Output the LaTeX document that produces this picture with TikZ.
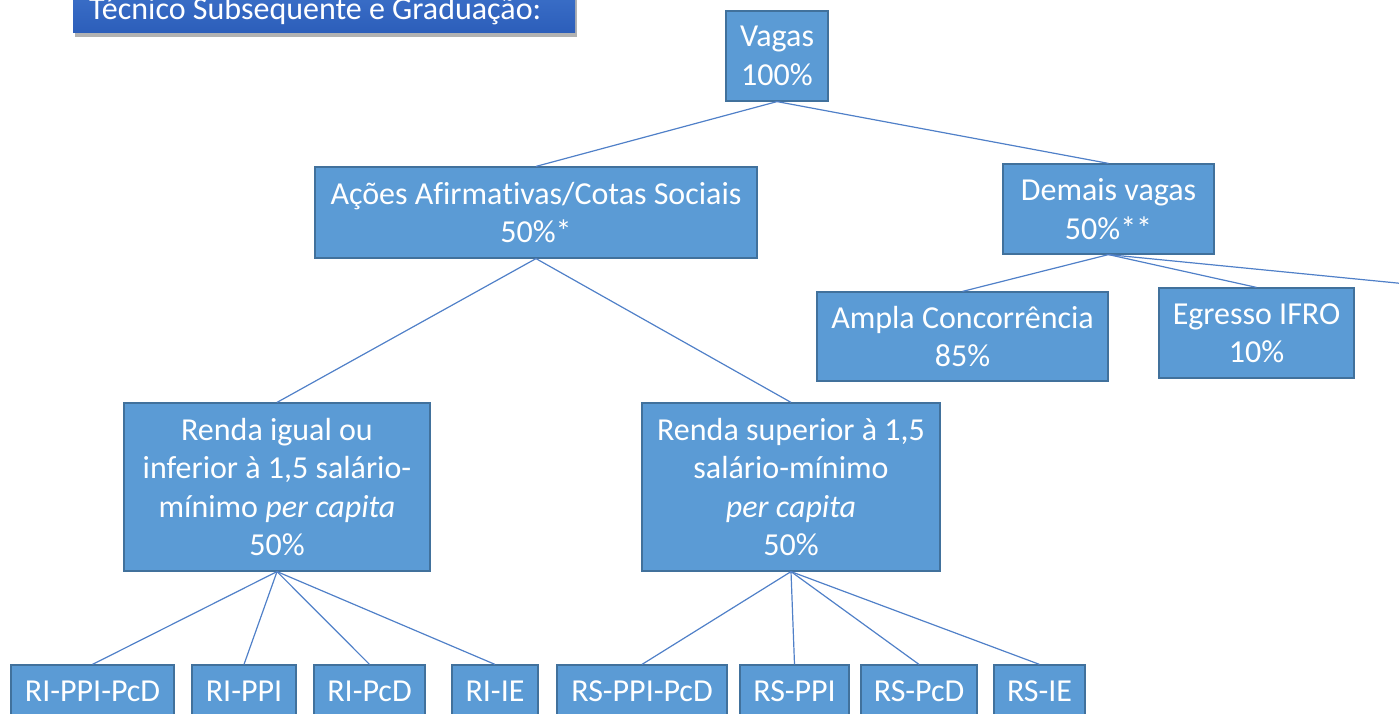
\documentclass[tikz,border=0pt]{standalone}
\usepackage{fontspec}
\setmainfont{Carlito}[Ligatures=NoCommon]
\usetikzlibrary{shadows}
\definecolor{boxfill}{RGB}{91,155,213}
\definecolor{boxline}{RGB}{65,113,156}
\definecolor{conn}{RGB}{80,128,200}
\definecolor{titletop}{RGB}{74,128,214}
\definecolor{titlebot}{RGB}{44,94,186}
\tikzset{
  box/.style={draw=boxline, fill=boxfill, line width=1.2pt, text=white, align=center,
    inner sep=0pt, font=\fontsize{32}{38.5}\selectfont},
  link/.style={draw=conn, line width=1.2pt},
  titlebox/.style={top color=titletop, bottom color=titlebot, draw=none,
    drop shadow={shadow xshift=2pt, shadow yshift=-4pt, opacity=0.3, fill=black}},
  titletxt/.style={text=white, inner sep=0pt, font=\fontsize{32}{38.5}\selectfont}
}
\begin{document}
\begin{tikzpicture}[x=1pt,y=-1pt]
\useasboundingbox (0,0) rectangle (1399,714);
\clip (0,0) rectangle (1399,714);
% title
\node[titlebox, minimum width=502pt, minimum height=80pt, anchor=south west] (title) at (73,33) {};
\node[titletxt, anchor=base west] (titletext) at (89,20) {Técnico Subsequente e Graduação:};
% nodes
\node[box, minimum width=102pt, minimum height=90pt] (vagas) at (777,56) {Vagas\\100\%};
\node[box, minimum width=442pt, minimum height=91pt] (acoes) at (536,212.5) {Ações Afirmativas/Cotas Sociais\\50\%*};
\node[box, minimum width=211pt, minimum height=90pt] (demais) at (1108.5,209) {Demais vagas\\50\%**};
\node[box, minimum width=291pt, minimum height=89pt] (ampla) at (962.5,336.5) {Ampla Concorrência\\85\%};
\node[box, minimum width=195pt, minimum height=90pt] (egresso) at (1256.5,333) {Egresso IFRO\\10\%};
\coordinate (offright) at (1600,303);
\node[box, minimum width=306pt, minimum height=168pt] (rigual) at (277,487)
  {Renda igual ou\\inferior à 1,5 salário-\\mínimo \textit{per capita}\\50\%};
\node[box, minimum width=298pt, minimum height=168pt] (rsup) at (791,487)
  {Renda superior à 1,5\\salário-mínimo\\\textit{per capita}\\50\%};
\node[box, minimum width=163pt, minimum height=52pt] (ri1) at (92.5,691) {RI-PPI-PcD};
\node[box, minimum width=104pt, minimum height=52pt] (ri2) at (244,691) {RI-PPI};
\node[box, minimum width=111pt, minimum height=52pt] (ri3) at (369.5,691) {RI-PcD};
\node[box, minimum width=86pt, minimum height=52pt] (ri4) at (495,691) {RI-IE};
\node[box, minimum width=170pt, minimum height=52pt] (rs1) at (642,691) {RS-PPI-PcD};
\node[box, minimum width=109pt, minimum height=52pt] (rs2) at (794.5,691) {RS-PPI};
\node[box, minimum width=116pt, minimum height=52pt] (rs3) at (919,691) {RS-PcD};
\node[box, minimum width=91pt, minimum height=52pt] (rs4) at (1039.5,691) {RS-IE};
% connectors
\draw[link] (vagas.south) -- (acoes.north);
\draw[link] (vagas.south) -- (demais.north);
\draw[link] (demais.south) -- (ampla.north);
\draw[link] (demais.south) -- (egresso.north);
\draw[link] (demais.south) -- (offright);
\draw[link] (acoes.south) -- (rigual.north);
\draw[link] (acoes.south) -- (rsup.north);
\foreach \n in {ri1,ri2,ri3,ri4} \draw[link] (rigual.south) -- (\n.north);
\foreach \n in {rs1,rs2,rs3,rs4} \draw[link] (rsup.south) -- (\n.north);
\end{tikzpicture}
\end{document}
